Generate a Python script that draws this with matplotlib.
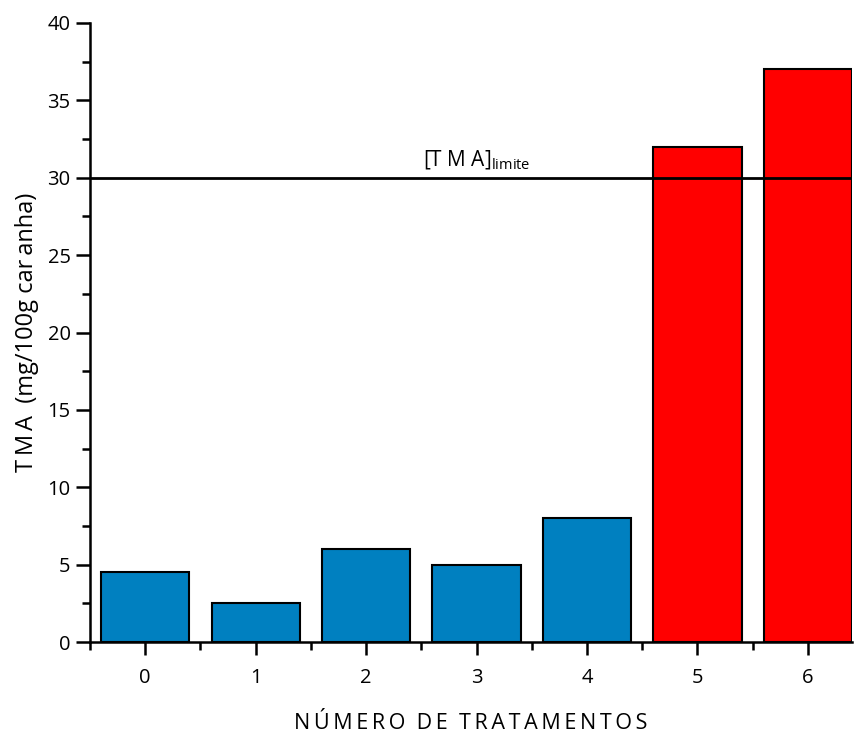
import matplotlib
matplotlib.use("Agg")
import matplotlib.pyplot as plt
from matplotlib.ticker import MultipleLocator, FixedLocator

plt.rcParams['font.family'] = ['Open Sans', 'DejaVu Sans']
plt.rcParams['mathtext.fontset'] = 'custom'
plt.rcParams['mathtext.rm'] = 'Open Sans'

# data
tratamentos = [0, 1, 2, 3, 4, 5, 6]
tma = [4.5, 2.5, 6.0, 5.0, 8.0, 32.0, 37.0]
limite = 30
cores = ['#0080C0'] * 5 + ['#FF0000'] * 2

def espacar(txt):
    # letter-spaced label, as in the original
    return "\u2009".join(txt).replace("\u2009 \u2009", "  ")

fig = plt.figure(figsize=(8.55, 7.34), dpi=100)
ax = fig.add_axes([0.1053, 0.1253, 0.8912, 0.8434])

ax.bar(tratamentos, tma, width=0.8, color=cores, edgecolor='black', linewidth=1.5, zorder=2)
ax.axhline(limite, color='black', linewidth=2, zorder=3)
ax.text(3.0, limite + 0.4, r"[T M A]$_{\mathrm{limite}}$", fontsize=15, ha='center', va='bottom')

ax.set_xlim(-0.5, 6.4)
ax.set_ylim(0, 40)

ax.xaxis.set_major_locator(FixedLocator(tratamentos))
ax.xaxis.set_minor_locator(FixedLocator([-0.5, 0.5, 1.5, 2.5, 3.5, 4.5, 5.5]))
ax.yaxis.set_major_locator(MultipleLocator(5))
ax.yaxis.set_minor_locator(MultipleLocator(2.5))

ax.tick_params(axis='both', which='major', direction='out', width=1.8, labelsize=14.5)
ax.tick_params(axis='x', which='major', length=9, pad=10)
ax.tick_params(axis='y', which='major', length=10, pad=4)
ax.tick_params(axis='both', which='minor', direction='out', width=1.8, length=6)

for s in ['top', 'right']:
    ax.spines[s].set_visible(False)
for s in ['left', 'bottom']:
    ax.spines[s].set_linewidth(1.8)

ax.set_xlabel(espacar("NÚMERO DE TRATAMENTOS"), fontsize=15.5, labelpad=18)
ax.set_ylabel("T\u2009M\u2009A  (mg/100g car\u2009anha)", fontsize=17, labelpad=6)

fig.savefig("out.png", dpi=100)
